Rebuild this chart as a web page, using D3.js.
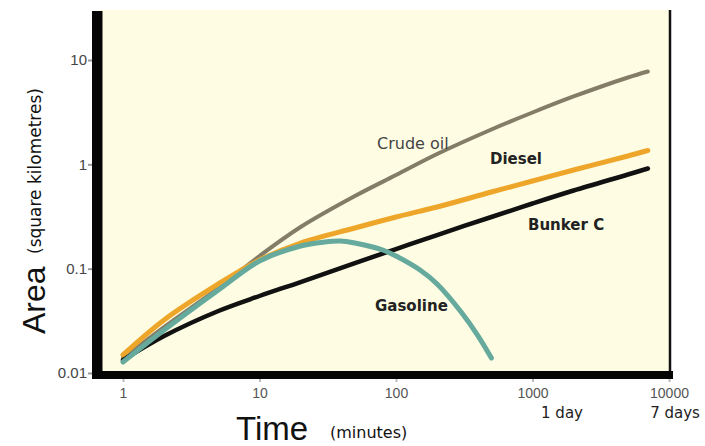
<!DOCTYPE html>
<html>
<head>
<meta charset="utf-8">
<script src="https://cdn.jsdelivr.net/npm/d3@7"></script>
<style>
  html, body { margin: 0; padding: 0; background: #ffffff; }
  svg { display: block; font-family: "Liberation Sans", Arial, Helvetica, sans-serif; }
</style>
</head>
<body>
<svg id="chart" width="705" height="446"></svg>
<script>
// ---- data (time in minutes, area in km²) ----
const times      = [1, 2, 5, 10, 20, 50, 100, 200, 500, 1000, 2000, 5000, 7000];
const crudeOil   = [0.0139, 0.0276, 0.0653, 0.1322, 0.2507, 0.497, 0.790, 1.256, 2.158, 3.139, 4.469, 6.797, 7.758];
const diesel     = [0.0149, 0.0322, 0.0713, 0.1211, 0.1762, 0.2454, 0.3128, 0.3901, 0.543, 0.692, 0.8825, 1.202, 1.357];
const bunkerC    = [0.0133, 0.0226, 0.0393, 0.0547, 0.0745, 0.1133, 0.1543, 0.2102, 0.3128, 0.4213, 0.5614, 0.799, 0.912];
const gasTimes   = [1, 2, 5, 10, 20, 30, 39, 50, 80, 100, 150, 200, 300, 400, 500];
const gasoline   = [0.01275, 0.0258, 0.0625, 0.1184, 0.1649, 0.1801, 0.1842, 0.1762, 0.151, 0.1322, 0.0971, 0.0713, 0.0384, 0.0226, 0.0139];

const xTicks      = [1, 10, 100, 1000, 10000];
const xTickLabels = ["1", "10", "100", "1000", "10000"];
const yTicks      = [0.01, 0.1, 1, 10];
const yTickLabels = ["0.01", "0.1", "1", "10"];

const series = [
  {name: "Crude oil", t: times,    v: crudeOil, color: "#837c67", width: 4},
  {name: "Diesel",    t: times,    v: diesel,   color: "#eea62a", width: 5},
  {name: "Bunker C",  t: times,    v: bunkerC,  color: "#111111", width: 4.5},
  {name: "Gasoline",  t: gasTimes, v: gasoline, color: "#66aa9e", width: 5}
];

// ---- layout ----
const svg = d3.select("#chart");
const x = d3.scaleLog().domain([1, 10000]).range([123, 669]);
const y = d3.scaleLog().domain([0.01, 10]).range([373, 60]);

const plotLeft = 98, plotRight = 670, plotTop = 10, plotBottom = 375;

// background
svg.append("rect")
  .attr("x", plotLeft).attr("y", plotTop)
  .attr("width", plotRight - plotLeft).attr("height", plotBottom - plotTop)
  .attr("fill", "#fefde3");

// curves
const line = d3.line()
  .x(d => x(d[0])).y(d => y(d[1]))
  .curve(d3.curveCatmullRom.alpha(0.5));

svg.append("g").selectAll("path")
  .data(series)
  .join("path")
  .attr("d", s => line(s.t.map((t, i) => [t, s.v[i]])))
  .attr("fill", "none")
  .attr("stroke", s => s.color)
  .attr("stroke-width", s => s.width)
  .attr("stroke-linecap", "round")
  .attr("stroke-linejoin", "round");

// thin right border
svg.append("line")
  .attr("x1", 670).attr("x2", 670).attr("y1", 10).attr("y2", 375)
  .attr("stroke", "#111").attr("stroke-width", 2.5);

// x axis
const xAxis = d3.axisBottom(x)
  .tickValues(xTicks)
  .tickFormat((d, i) => xTickLabels[i])
  .tickSize(7).tickPadding(6);
const gx = svg.append("g").attr("transform", `translate(0,${plotBottom})`).call(xAxis);
gx.select(".domain").remove();
gx.selectAll(".tick line").attr("stroke", "#bbb").attr("stroke-width", 2);
gx.selectAll(".tick text").attr("font-size", 14).attr("fill", "#555")
  .attr("font-family", "Liberation Sans, Arial, sans-serif");

// y axis
const yAxis = d3.axisLeft(y)
  .tickValues(yTicks)
  .tickFormat((d, i) => yTickLabels[i])
  .tickSize(10).tickPadding(1);
const gy = svg.append("g").attr("transform", `translate(${plotLeft},0)`).call(yAxis);
gy.select(".domain").remove();
gy.selectAll(".tick line").attr("stroke", "#999").attr("stroke-width", 2);
gy.selectAll(".tick text").attr("font-size", 15).attr("fill", "#444")
  .attr("font-family", "Liberation Sans, Arial, sans-serif");

// thick bars
svg.append("rect").attr("x", 92).attr("y", 11).attr("width", 10.5).attr("height", 368).attr("fill", "#050505");
svg.append("rect").attr("x", 92).attr("y", 371).attr("width", 581).attr("height", 8).attr("fill", "#050505");

// extra time labels
svg.append("text").attr("x", 562).attr("y", 418).attr("text-anchor", "middle")
  .attr("font-family", "DejaVu Sans, sans-serif")
  .attr("font-size", 15).attr("fill", "#222").text("1 day");
svg.append("text").attr("x", 675).attr("y", 418).attr("text-anchor", "middle")
  .attr("font-family", "DejaVu Sans, sans-serif")
  .attr("font-size", 15).attr("fill", "#222").text("7 days");

// axis titles
svg.append("text").attr("x", 236).attr("y", 440).attr("fill", "#111")
  .attr("font-size", 33).text("Time");
svg.append("text").attr("x", 330).attr("y", 438).attr("fill", "#111")
  .attr("font-family", "DejaVu Sans, sans-serif")
  .attr("font-size", 16).text("(minutes)");

svg.append("text")
  .attr("transform", "translate(45,334) rotate(-90)")
  .attr("fill", "#111").attr("font-size", 32).text("Area");
svg.append("text")
  .attr("transform", "translate(41,254) rotate(-90)")
  .attr("font-family", "DejaVu Sans, sans-serif")
  .attr("fill", "#111").attr("font-size", 17).text("(square kilometres)");

// series labels
const labels = [
  {text: "Crude oil", x: 377, y: 149, bold: false},
  {text: "Diesel",    x: 490, y: 164, bold: true},
  {text: "Bunker C",  x: 528, y: 230, bold: true},
  {text: "Gasoline",  x: 375, y: 311, bold: true}
];
svg.append("g").selectAll("text")
  .data(labels)
  .join("text")
  .attr("x", d => d.x).attr("y", d => d.y)
  .attr("font-family", "DejaVu Sans, sans-serif")
  .attr("font-size", d => d.bold ? 15 : 16)
  .attr("font-weight", d => d.bold ? "bold" : "normal")
  .attr("fill", d => d.bold ? "#222" : "#444")
  .text(d => d.text);
</script>
</body>
</html>
